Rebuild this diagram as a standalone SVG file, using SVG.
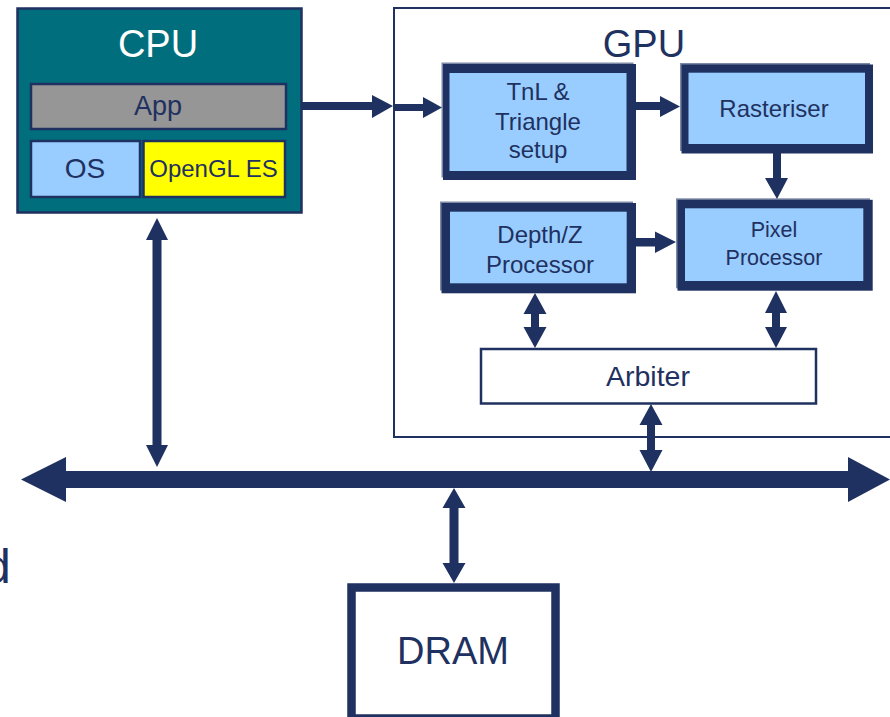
<svg xmlns="http://www.w3.org/2000/svg" width="890" height="717" viewBox="0 0 890 717">
  <style>
    .lbl { font-family: "Liberation Sans", Arial, sans-serif; fill: #1f3160; text-anchor: middle; }
    .thin { stroke: #1f3160; stroke-width: 2.5; }
    .edge { fill: #7d89a6; }
    .frame { fill: #1f3160; }
    .blue { fill: #99ccff; }
    .arrow { fill: #1f3160; }
  </style>
  <rect x="0" y="0" width="890" height="717" fill="#ffffff"/>

  <!-- CPU package -->
  <g id="cpu">
    <rect x="17.5" y="8.5" width="284" height="204" fill="#006e7d" class="thin"/>
    <text x="158" y="57" class="lbl" font-size="38" style="fill:#ffffff">CPU</text>
    <g id="app">
      <rect x="31" y="84" width="255" height="45" fill="#969696" class="thin"/>
      <text x="158" y="115" class="lbl" font-size="27">App</text>
    </g>
    <g id="os">
      <rect x="31" y="141" width="109" height="56" fill="#99ccff" class="thin"/>
      <text x="85" y="178" class="lbl" font-size="28">OS</text>
    </g>
    <g id="opengl-es">
      <rect x="143.5" y="141" width="141.5" height="56" fill="#ffff00" class="thin"/>
      <text x="213.5" y="177" class="lbl" font-size="24">OpenGL ES</text>
    </g>
  </g>

  <!-- GPU outline -->
  <g id="gpu">
    <rect x="394" y="8" width="520" height="429" fill="none" stroke="#1f3160" stroke-width="2"/>
    <text x="644" y="57" class="lbl" font-size="38">GPU</text>
  </g>

  <g id="tnl">
    <rect x="441.5" y="62.5" width="192" height="115" class="edge"/>
    <rect x="443" y="64" width="193" height="116" class="frame"/>
    <rect x="449.5" y="73" width="177" height="98" class="blue"/>
    <text class="lbl" font-size="24"><tspan x="538" y="100">TnL &amp;</tspan><tspan x="538" y="130">Triangle</tspan><tspan x="538" y="158">setup</tspan></text>
  </g>

  <g id="rasteriser">
    <rect x="680" y="63" width="190" height="88" class="edge"/>
    <rect x="681.5" y="64.5" width="191.5" height="89" class="frame"/>
    <rect x="688.5" y="72.7" width="176.5" height="71.3" class="blue"/>
    <text x="774" y="117" class="lbl" font-size="24">Rasteriser</text>
  </g>

  <g id="depth">
    <rect x="440" y="201.5" width="193" height="89" class="edge"/>
    <rect x="441.5" y="203" width="194.5" height="90.3" class="frame"/>
    <rect x="450" y="211.7" width="176.7" height="71.6" class="blue"/>
    <text class="lbl" font-size="24"><tspan x="540" y="243">Depth/Z</tspan><tspan x="540" y="273">Processor</tspan></text>
  </g>

  <g id="pixel">
    <rect x="676" y="198.3" width="194" height="90" class="edge"/>
    <rect x="677.5" y="199.8" width="195.2" height="90.9" class="frame"/>
    <rect x="685" y="208.3" width="178.3" height="72.7" class="blue"/>
    <text class="lbl" font-size="21.5"><tspan x="774" y="237">Pixel</tspan><tspan x="774" y="265">Processor</tspan></text>
  </g>

  <g id="arbiter">
    <rect x="481" y="349" width="335" height="54.5" fill="#ffffff" class="thin"/>
    <text x="648" y="386" class="lbl" font-size="28.5">Arbiter</text>
  </g>

  <g id="dram">
    <rect x="351.5" y="587.5" width="204" height="131" fill="#ffffff" stroke="#1f3160" stroke-width="8.5"/>
    <text x="453" y="664" class="lbl" font-size="38">DRAM</text>
  </g>

  <text x="-16" y="583" font-family="'Liberation Sans', Arial, sans-serif" font-size="48" fill="#1f3160">d</text>

  <!-- connectors -->
  <g id="connectors" class="arrow">
    <!-- system bus -->
    <polygon points="21,479.5 66,457 66,471 848,471 848,457 890,479.5 848,502 848,488 66,488 66,502"/>
    <!-- CPU to GPU -->
    <polygon points="302,102 372,102 372,95 393,106 372,118 372,110 302,110"/>
    <polygon points="395,104 423,104 423,97 442,107.5 423,118 423,111 395,111"/>
    <!-- pipeline -->
    <polygon points="636,102 660,102 660,96 680,106.5 660,117 660,110 636,110"/>
    <polygon points="773,153 781,153 781,178 788,178 777,199 765,178 773,178"/>
    <polygon points="636,238 655,238 655,231.5 676,242 655,253 655,246.5 636,246.5"/>
    <!-- memory accesses -->
    <polygon points="535,293 546.5,314 539,314 539,327 546.5,327 535,348 523.5,327 531,327 531,314 523.5,314"/>
    <polygon points="776,291 787,313 780,313 780,327 787,327 776,348 765,327 772,327 772,313 765,313"/>
    <polygon points="651,404 662.5,425 655,425 655,450 662.5,450 651,472 639.5,450 647,450 647,425 639.5,425"/>
    <polygon points="157,218 168,240 161.5,240 161.5,445 168,445 157,467 146,445 152.5,445 152.5,240 146,240"/>
    <polygon points="454,488 465.5,508 458.5,508 458.5,563 465.5,563 454,583 442.5,563 449.5,563 449.5,508 442.5,508"/>
  </g>
</svg>
